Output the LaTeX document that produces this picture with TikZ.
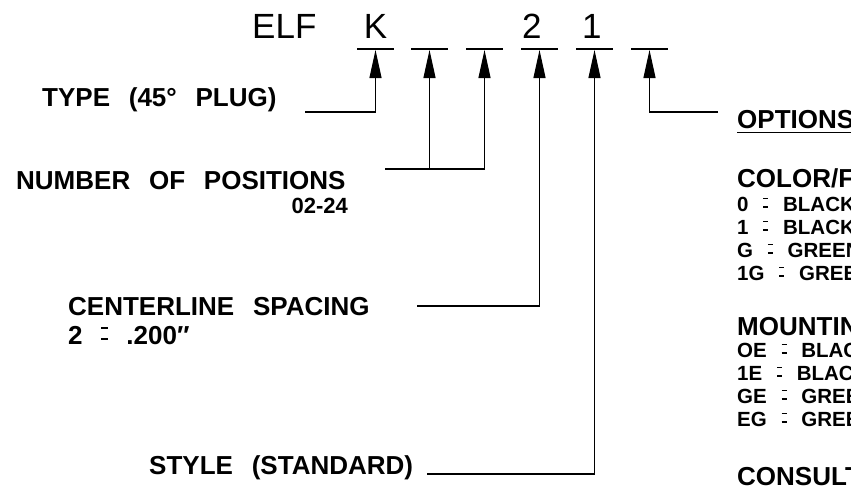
\documentclass[tikz,border=0pt]{standalone}
\usepackage{graphicx}
\usepackage{fontspec}
\setmainfont{Liberation Sans}[WordSpace=2.6]
\usetikzlibrary{arrows.meta}
\newcommand\smeq{\rule[0.17em]{0.24em}{0.055em}\llap{\rule[0.58em]{0.24em}{0.055em}}}
\begin{document}
\begin{tikzpicture}[x=1pt,y=-1pt,
  lbl/.style={inner sep=0pt, anchor=base west, font=\fontsize{26}{26}\selectfont\bfseries},
  row/.style={inner sep=0pt, anchor=base west, font=\fontsize{20.5}{20.5}\selectfont\bfseries},
  big/.style={inner sep=0pt, font=\fontsize{35}{35}\selectfont},
  wire/.style={line width=1.1pt},
  arr/.style={line width=1.1pt, -{Triangle[length=28pt,width=12pt]}}]
\useasboundingbox (0,0) rectangle (851,485);
\begin{scope}
\clip (0,0) rectangle (851,485);
% part number
\node[big, anchor=base west] (elf) at (252,38) {ELF};
\node[big, anchor=base] (k) at (375.5,38) {K};
\node[big, anchor=base west] (two) at (522,38) {2};
\node[big, anchor=base west] (one) at (582,38) {1};
% slots
\coordinate (s1) at (375.5,50);
\coordinate (s2) at (429.5,50);
\coordinate (s3) at (484.5,50);
\coordinate (s4) at (539.5,50);
\coordinate (s5) at (594.5,50);
\coordinate (s6) at (649.5,50);
\foreach \s in {s1,s2,s3,s4,s5,s6}
  \draw[wire] ([shift={(-18.5,-1)}]\s) -- ([shift={(18.5,-1)}]\s);
% left labels
\node[lbl] (typ) at (42,106) {TYPE (45° PLUG)};
\node[lbl] (num) at (16,189) {NUMBER OF POSITIONS};
\node[inner sep=0pt, anchor=base east, font=\fontsize{22}{22}\selectfont\bfseries] (range) at (348,213) {02-24};
\node[lbl] (cen) at (68,315) {CENTERLINE SPACING};
\node[lbl] (cenv) at (68,344) {2 \smeq{} .200″};
\node[lbl] (sty) at (149,474) {STYLE (STANDARD)};
% right labels
\node[lbl] (opt) at (737,128) {OPTIONS};
\draw[line width=1pt] ([yshift=-4pt]opt.base west) -- ([yshift=-4pt]opt.base east);
\node[lbl] (col) at (737,187) {COLOR/F};
\node[row] (c1) at (737,211) {0 \smeq{} BLACK};
\node[row] (c2) at (737,234) {1 \smeq{} BLACK};
\node[row] (c3) at (737,257) {G \smeq{} GREEN};
\node[row] (c4) at (737,280) {1G \smeq{} GREEN};
\node[lbl] (mnt) at (737,335) {MOUNTING};
\node[row] (m1) at (737,357) {OE \smeq{} BLACK};
\node[row] (m2) at (737,380) {1E \smeq{} BLACK};
\node[row] (m3) at (737,403) {GE \smeq{} GREEN};
\node[row] (m4) at (737,426) {EG \smeq{} GREEN};
\node[lbl] (con) at (737,485) {CONSULT};
% connectors
\coordinate (t1) at (305,112);
\draw[arr] (t1) -| (s1);
\coordinate (n1) at (385,169);
\coordinate (n2) at (429.5,169);
\coordinate (n3) at (484.5,169);
\draw[wire] (n1) -- (n3);
\draw[arr] (n2) -- (s2);
\draw[arr] (n3) -- (s3);
\coordinate (c0) at (417,306);
\draw[arr] (c0) -| (s4);
\coordinate (y0) at (427,474);
\draw[arr] (y0) -| (s5);
\coordinate (o0) at (718,112);
\draw[arr] (o0) -| (s6);
\end{scope}
\end{tikzpicture}
\end{document}
